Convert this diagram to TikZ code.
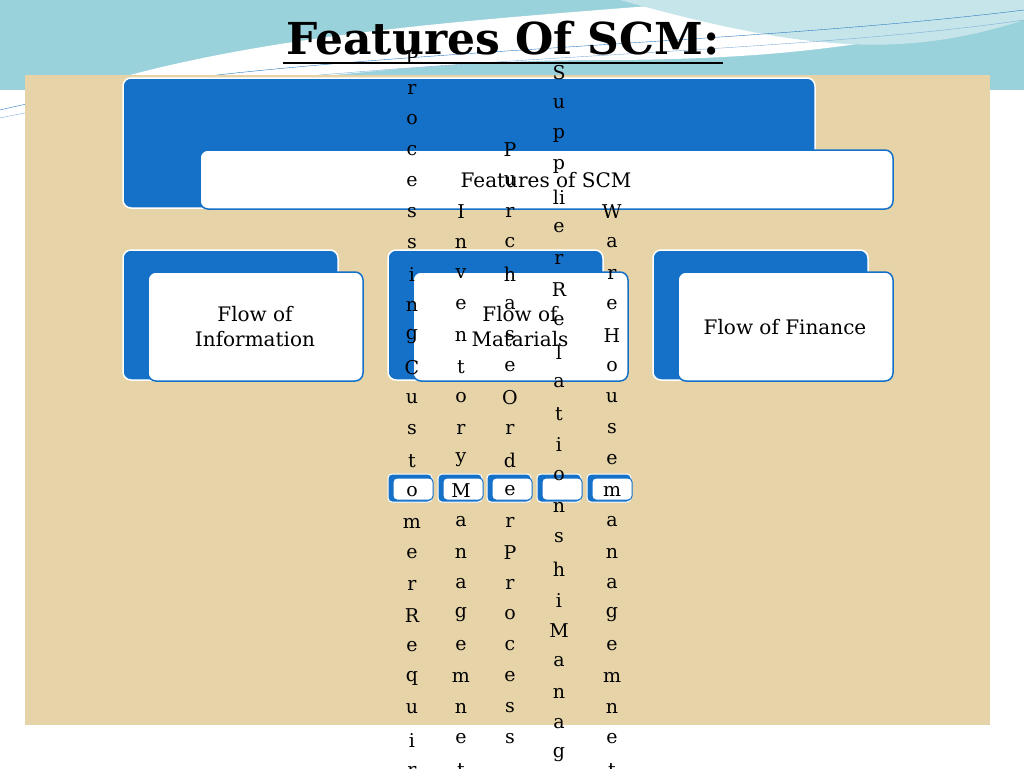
\documentclass[tikz,border=0pt]{standalone}
\usepackage{fontspec}
\setmainfont{DejaVu Serif}
\usetikzlibrary{positioning}
\definecolor{scmblue}{RGB}{21,112,200}
\definecolor{parch}{RGB}{230,212,168}
\definecolor{sea}{RGB}{110,190,205}
\definecolor{seadark}{RGB}{40,120,190}
\tikzset{
  backbox/.style={draw=white,line width=1.5pt,fill=scmblue,rounded corners=8pt},
  frontbox/.style={draw=scmblue,line width=1.5pt,fill=white,rounded corners=8pt},
  label/.style={font=\fontsize{20}{25}\selectfont,align=center,text=black},
  letter/.style={font=\fontsize{19}{22}\selectfont,inner sep=0pt,anchor=center}
}
\begin{document}
\begin{tikzpicture}[x=1pt,y=-1pt]
\useasboundingbox (0,0) rectangle (1024,768);
% background
\fill[white] (0,0) rectangle (1024,768);
\fill[sea!70] (0,0) rectangle (1024,90);
\fill[white] (0,120) .. controls (200,30) and (500,20) .. (720,0) -- (1024,0) -- (1024,10) .. controls (900,40) and (800,60) .. (600,60) .. controls (400,60) and (200,90) .. (0,120) -- cycle;
\fill[sea!40] (620,0) .. controls (800,50) and (900,60) .. (1024,20) -- (1024,0) -- cycle;
\draw[seadark,thin] (0,110) .. controls (250,50) and (700,50) .. (1024,10);
\draw[seadark!60,thin] (0,118) .. controls (300,55) and (750,60) .. (1024,20);
\fill[parch] (25,75) rectangle (990,725);
% title
\node[font=\fontsize{44}{50}\selectfont\bfseries,inner sep=0pt] (title) at (503,38) {Features Of SCM:};
\draw[line width=1.5pt] (283,63) -- (723,63);
% top boxes
\draw[backbox] (123,78) rectangle (815,208);
\draw[frontbox] (200,150) rectangle (893,209);
\node[label] (feat) at (546,180) {Features of SCM};
% three flows
\foreach \x/\txt [count=\k] in {123/{Flow of\\Information},388/{Flow of\\Matarials},653/{Flow of Finance}}{
  \draw[backbox] (\x,250) rectangle ++(215,130);
  \draw[frontbox] (\x+25,272) rectangle ++(215,109);
  \node[label] (flow\k) at (\x+132,327) {\txt};
}
% small boxes
\foreach \x [count=\k] in {388,438,487,537,587}{
  \draw[backbox,rounded corners=4pt,line width=1pt] (\x,474) rectangle ++(44,28);
  \draw[frontbox,rounded corners=4pt,line width=1pt] (\x+5,478) rectangle ++(40,22);
}
% vertical texts
\foreach \ch [count=\i] in {P,r,o,c,e,s,s,i,n,g,C,u,s,t,o,m,e,r,R,e,q,u,i,r}
  \node[letter] (pc\i) at (412,58+31*\i-31) {\ch};
\foreach \ch [count=\i] in {I,n,v,e,n,t,o,r,y,M,a,n,a,g,e,m,n,e,t}
  \node[letter] (im\i) at (461,212+31*\i-31) {\ch};
\foreach \ch [count=\i] in {P,u,r,c,h,a,s,e,O,r,d,e,r,P,r,o,c,e,s,s}
  \node[letter] (po\i) at (510,150+31*\i-31) {\ch};
\foreach \ch [count=\i] in {S,u,p,p,li,e,r,R,e,l,a,t,i,o,n,s,h,i,M,a,n,a,g}
  \node[letter] (sr\i) at (559,73+31*\i-31) {\ch};
\foreach \ch [count=\i] in {W,a,r,e,H,o,u,s,e,m,a,n,a,g,e,m,n,e,t}
  \node[letter] (wh\i) at (612,212+31*\i-31) {\ch};
\end{tikzpicture}
\end{document}
